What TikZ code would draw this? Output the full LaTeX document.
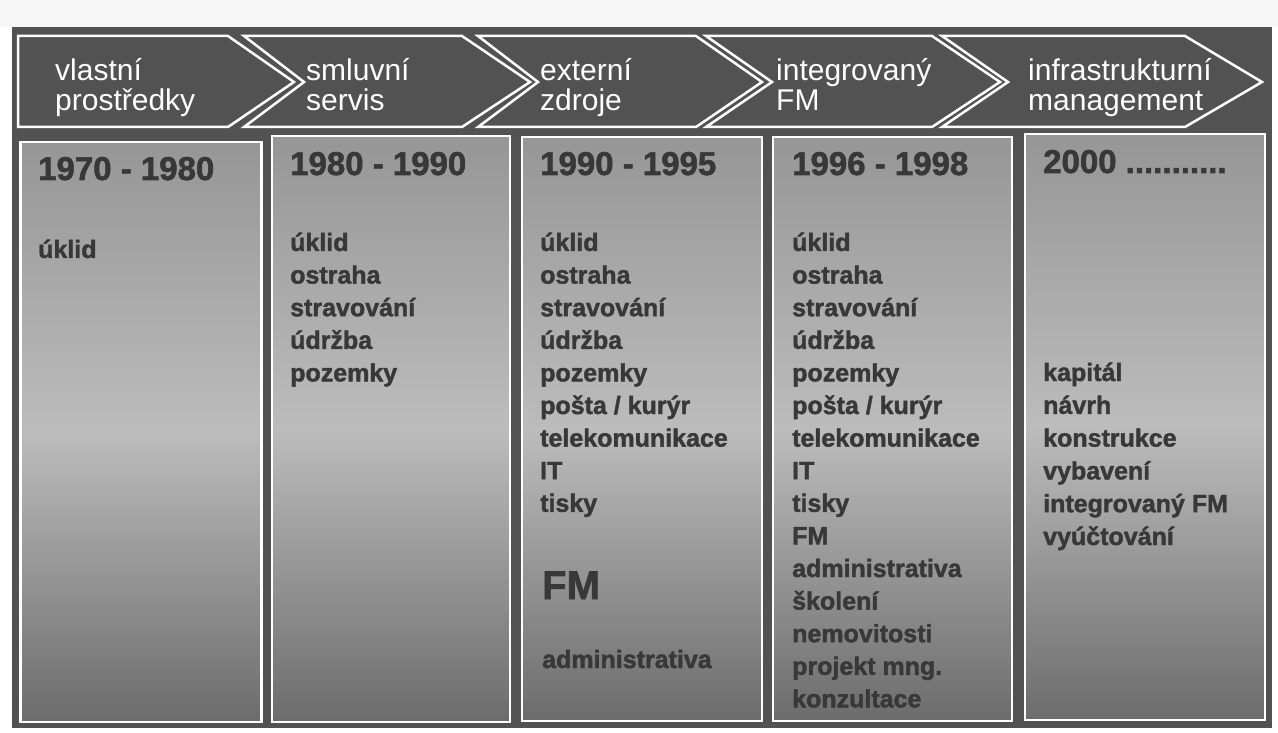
\documentclass[tikz,border=0pt]{standalone}
\usepackage{fontspec}
\setmainfont{Liberation Sans}
\newfontfamily\heavyfont[FakeBold=1.6]{Liberation Sans Bold}
\begin{document}
\definecolor{slide}{RGB}{82,82,82}
\definecolor{boxtop}{RGB}{150,150,150}
\definecolor{boxmid}{RGB}{188,188,188}
\definecolor{boxbot}{RGB}{108,108,108}
\definecolor{ink}{RGB}{56,56,56}
\definecolor{paper}{RGB}{246,246,246}
\begin{tikzpicture}[x=1pt,y=-1pt,
  chev/.style={draw=white,line width=2.5pt,line join=miter},
  chevtext/.style={text=white,font=\fontsize{30}{30}\selectfont,anchor=base west,inner sep=0pt},
  colbox/.style={draw=white,line width=2.5pt,top color=boxtop,bottom color=boxbot,middle color=boxmid,inner sep=0pt,minimum width=240pt,minimum height=584pt},
  year/.style={text=ink,font=\heavyfont\fontsize{33}{33}\selectfont,anchor=base west,inner sep=0pt},
  item/.style={text=ink,font=\heavyfont\fontsize{25}{25}\selectfont,anchor=base west,inner sep=0pt},
  bigitem/.style={text=ink,font=\heavyfont\fontsize{40}{40}\selectfont,anchor=base west,inner sep=0pt}]
\useasboundingbox (0,0) rectangle (1278,733);
\fill[white] (0,0) rectangle (1278,733);
\fill[paper] (0,0) rectangle (1278,27);
\fill[slide] (12,27) rectangle (1272,728);
% chevrons
\draw[chev] (18,36) -- (228,36) -- (294,82) -- (228,127) -- (18,127) -- cycle;
\draw[chev] (244,36) -- (462,36) -- (530,82) -- (462,127) -- (244,127) -- (304,82) -- cycle;
\draw[chev] (478,36) -- (696,36) -- (762,82) -- (696,127) -- (478,127) -- (538,82) -- cycle;
\draw[chev] (706,36) -- (932,36) -- (1000,82) -- (932,127) -- (706,127) -- (772,82) -- cycle;
\draw[chev] (942,36) -- (1185,36) -- (1262,82) -- (1185,127) -- (942,127) -- (1008,82) -- cycle;
\node[chevtext] (h1a) at (55,81) {vlastní};
\node[chevtext] (h1b) at (55,111) {prostředky};
\node[chevtext] (h2a) at (306,81) {smluvní};
\node[chevtext] (h2b) at (306,111) {servis};
\node[chevtext] (h3a) at (540,81) {externí};
\node[chevtext] (h3b) at (540,111) {zdroje};
\node[chevtext] (h4a) at (776,81) {integrovaný};
\node[chevtext] (h4b) at (776,111) {FM};
\node[chevtext] (h5a) at (1028,81) {infrastrukturní};
\node[chevtext] (h5b) at (1028,111) {management};
% column boxes
\node[colbox,minimum width=241pt,minimum height=580pt] (b1) at (141,432) {};
\node[colbox,minimum width=238pt,minimum height=586pt] (b2) at (391,429) {};
\node[colbox] (b3) at (642,429) {};
\node[colbox,minimum width=239pt] (b4) at (892.5,429) {};
\node[colbox,minimum width=240pt,minimum height=586pt] (b5) at (1145,427) {};
% years
\node[year] (y1) at (38,180) {1970 - 1980};
\node[year] (y2) at (290,175) {1980 - 1990};
\node[year] (y3) at (540,175) {1990 - 1995};
\node[year] (y4) at (792,175) {1996 - 1998};
\node[year] (y5) at (1043,173) {2000 ...........};
% items
\node[item] (i1) at (38,258) {úklid};
\foreach \t [count=\i] in {úklid,ostraha,stravování,údržba,pozemky}
  \node[item] (iia\i) at (290,{251+32.6*(\i-1)}) {\t};
\foreach \t [count=\i] in {úklid,ostraha,stravování,údržba,pozemky,pošta / kurýr,telekomunikace,IT,tisky}
  \node[item] (iii\i) at (540,{251+32.6*(\i-1)}) {\t};
\node[bigitem] (iiiFM) at (542,599) {FM};
\node[item] (iiiadm) at (542,668) {administrativa};
\foreach \t [count=\i] in {úklid,ostraha,stravování,údržba,pozemky,pošta / kurýr,telekomunikace,IT,tisky,FM,administrativa,školení,nemovitosti,projekt mng.,konzultace}
  \node[item] (iv\i) at (792,{251+32.6*(\i-1)}) {\t};
\foreach \t [count=\i] in {kapitál,návrh,konstrukce,vybavení,integrovaný FM,vyúčtování}
  \node[item] (v\i) at (1043,{381+32.8*(\i-1)}) {\t};
\end{tikzpicture}
\end{document}
